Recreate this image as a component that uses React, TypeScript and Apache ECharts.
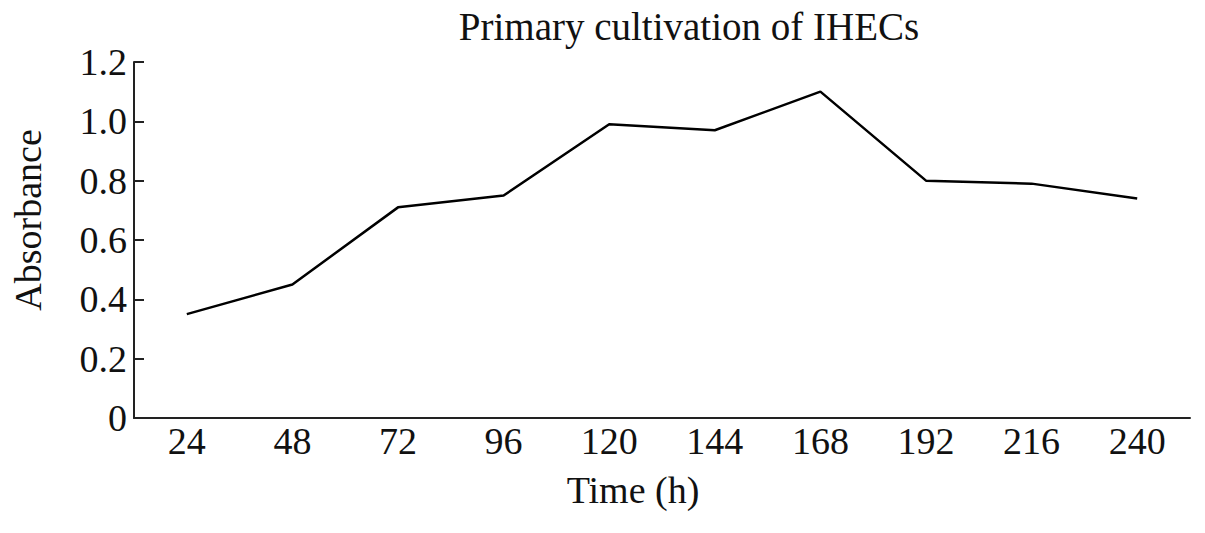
import React, { useEffect, useRef } from "react";
import * as echarts from "echarts";

const categories = ["24", "48", "72", "96", "120", "144", "168", "192", "216", "240"];
const absorbance = [0.35, 0.45, 0.71, 0.75, 0.99, 0.97, 1.1, 0.8, 0.79, 0.74];
const titleText = "Primary cultivation of IHECs";
const xName = "Time (h)";
const yName = "Absorbance";

const FONT = "'Liberation Serif', 'Times New Roman', serif";

export default function App() {
  const ref = useRef<HTMLDivElement>(null);
  useEffect(() => {
    if (!ref.current) return;
    const chart = echarts.init(ref.current, undefined, { renderer: "svg" });
    chart.setOption({
      animation: false,
      backgroundColor: "#ffffff",
      title: {
        text: titleText,
        left: 684,
        top: 2,
        textAlign: "center",
        textStyle: { fontFamily: FONT, fontSize: 39, fontWeight: "normal", color: "#111" },
      },
      grid: { left: 134, right: 15, top: 62, bottom: 115, containLabel: false },
      xAxis: {
        type: "category",
        data: categories,
        boundaryGap: true,
        axisLine: { lineStyle: { color: "#222", width: 2 } },
        axisTick: { show: false },
        axisLabel: { fontFamily: FONT, fontSize: 38, color: "#111", margin: 4 },
        splitLine: { show: false },
      },
      yAxis: {
        type: "value",
        min: 0,
        max: 1.2,
        interval: 0.2,
        axisLine: { show: true, lineStyle: { color: "#222", width: 2 } },
        axisTick: { show: true, inside: true, length: 10, lineStyle: { color: "#222", width: 2 } },
        axisLabel: {
          fontFamily: FONT,
          fontSize: 38,
          color: "#111",
          margin: 7,
          formatter: (v: number) => (v === 0 ? "0" : v.toFixed(1)),
        },
        splitLine: { show: false },
      },
      graphic: [
        {
          type: "text",
          x: 633,
          y: 490,
          style: {
            text: xName,
            fontFamily: FONT,
            fontSize: 38,
            fill: "#111",
            align: "center",
            verticalAlign: "middle",
          },
        },
        {
          type: "text",
          x: 28,
          y: 220,
          rotation: Math.PI / 2,
          style: {
            text: yName,
            fontFamily: FONT,
            fontSize: 38,
            fill: "#111",
            align: "center",
            verticalAlign: "middle",
          },
        },
      ],
      series: [
        {
          type: "line",
          data: absorbance,
          symbol: "none",
          lineStyle: { color: "#000", width: 2.5 },
        },
      ],
    });
    return () => chart.dispose();
  }, []);
  return (
    <div
      ref={ref}
      style={{ position: "fixed", left: 0, top: 0, width: 1205, height: 533, background: "#fff" }}
    />
  );
}
